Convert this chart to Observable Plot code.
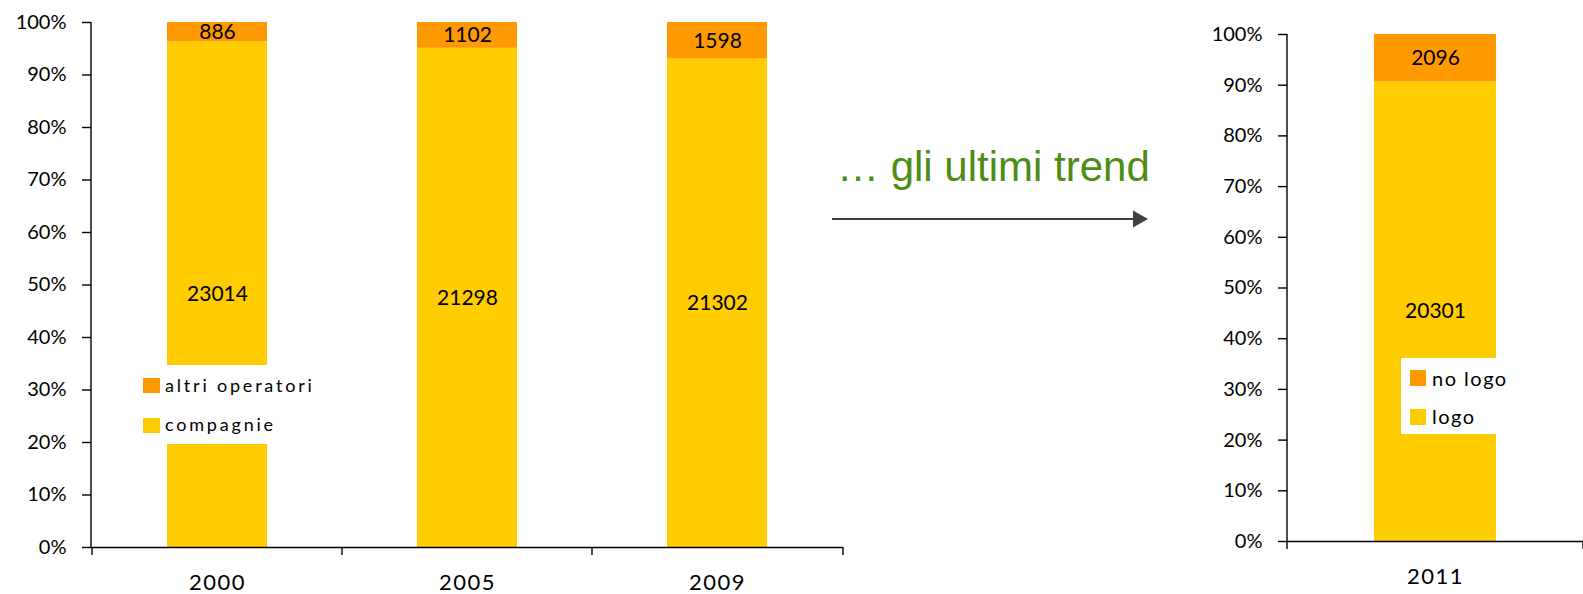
<!DOCTYPE html>
<html><head><meta charset="utf-8">
<script src="https://cdn.jsdelivr.net/npm/d3@7"></script>
<script src="https://cdn.jsdelivr.net/npm/@observablehq/plot@0.6"></script>
<style>
html,body{margin:0;padding:0;background:#fff;}
#root{position:relative;width:1583px;height:594px;overflow:hidden;font-family:Lato,sans-serif;}
.panel{position:absolute;top:0;}
.legend{position:absolute;background:#fff;}
.item{position:absolute;white-space:nowrap;color:#000;line-height:24px;}
.sw{position:absolute;}
#mid{position:absolute;left:800px;top:120px;}
</style></head><body><div id="root"></div>
<script>
// ---- data ----
const years = ["2000", "2005", "2009"];
const seriesLeft = ["compagnie", "altri operatori"];
const compagnie = [23014, 21298, 21302];
const altriOperatori = [886, 1102, 1598];

const years2 = ["2011"];
const seriesRight = ["logo", "no logo"];
const logo = [20301];
const noLogo = [2096];

const yTicks = [0, 0.1, 0.2, 0.3, 0.4, 0.5, 0.6, 0.7, 0.8, 0.9, 1];
const colors = ["#FFCC00", "#FF9900"];
const midText = "… gli ultimi trend";

// ---- tables ----
const leftData = years.flatMap((yr, i) => [
  {year: yr, series: seriesLeft[0], value: compagnie[i]},
  {year: yr, series: seriesLeft[1], value: altriOperatori[i]}
]);
const rightData = years2.flatMap((yr, i) => [
  {year: yr, series: seriesRight[0], value: logo[i]},
  {year: yr, series: seriesRight[1], value: noLogo[i]}
]);

// axis line + band-boundary ticks drawn from the scales
function axisFrame(domain) {
  return (index, scales, values, dims) => {
    const {x, y} = scales;
    const g = d3.create("svg:g").attr("stroke", "#000").attr("stroke-width", 1.4).attr("fill", "none");
    const x0 = dims.marginLeft;
    g.append("line").attr("x1", x0).attr("x2", x0).attr("y1", y(0)).attr("y2", y(1));
    const bounds = domain.map(d => x(d)).concat([dims.width - dims.marginRight]);
    for (const b of bounds) {
      g.append("line").attr("x1", b).attr("x2", b).attr("y1", y(0)).attr("y2", y(0) + 8);
    }
    return g.node();
  };
}

function panel(data, domain, series, o) {
  return Plot.plot({
    width: o.width, height: 594,
    marginLeft: o.ml, marginRight: o.mr, marginTop: o.mt, marginBottom: o.mb,
    style: {fontFamily: "Lato, sans-serif", background: "transparent", overflow: "visible", color: "#000"},
    x: {domain, padding: 0, label: null, axis: null},
    y: {domain: [0, 1], label: null, axis: null},
    color: {domain: series, range: colors},
    marks: [
      Plot.barY(data, Plot.stackY({offset: "normalize", x: "year", y: "value", fill: "series", insetLeft: o.inset, insetRight: o.inset})),
      Plot.text(data, Plot.stackY({offset: "normalize", x: "year", y: "value", z: "series", text: d => String(d.value), fontSize: 21, fill: "#000"})),
      Plot.ruleY([0], {stroke: "#000", strokeWidth: 1.4}),
      axisFrame(domain),
      Plot.axisY({ticks: yTicks, tickFormat: d3.format(".0%"), tickSize: 9, tickPadding: 16, fontSize: 20, label: null, stroke: "#000", strokeWidth: 1.4}),
      Plot.axisX({tickSize: 0, tickPadding: o.xpad, fontSize: 22, label: null})
    ]
  });
}

const root = document.getElementById("root");

const left = panel(leftData, years, seriesLeft, {width: 860, ml: 91, mr: 17, mt: 22, mb: 47, inset: 75, xpad: 27});
left.classList.add("panel"); left.style.left = "0px";
root.appendChild(left);

const right = panel(rightData, years2, seriesRight, {width: 433, ml: 137, mr: 0, mt: 34, mb: 53, inset: 87, xpad: 27});
right.classList.add("panel"); right.style.left = "1150px";
root.appendChild(right);

d3.selectAll("[aria-label='x-axis tick label'] text").style("letter-spacing", "1.5px");

// middle annotation
const mid = d3.select(root).append("svg").attr("id", "mid").attr("width", 380).attr("height", 130);
mid.append("text").attr("x", 37).attr("y", 61).attr("fill", "#4E8C14")
  .attr("font-family", "'Liberation Sans', Arial, sans-serif").attr("font-size", 42).text(midText);
mid.append("line").attr("x1", 32).attr("x2", 336).attr("y1", 99).attr("y2", 99)
  .attr("stroke", "#404040").attr("stroke-width", 2);
mid.append("path").attr("d", "M348,99 L333,90.5 L333,107.5 Z").attr("fill", "#404040");

// legends
function legend(box, items) {
  const div = document.createElement("div");
  div.className = "legend";
  Object.assign(div.style, {left: box.x + "px", top: box.y + "px", width: box.w + "px", height: box.h + "px"});
  items.forEach(it => {
    const sw = document.createElement("div");
    sw.className = "sw";
    Object.assign(sw.style, {left: it.sx + "px", top: it.sy + "px", width: it.sw + "px", height: it.sh + "px", background: it.color});
    div.appendChild(sw);
    const t = document.createElement("div");
    t.className = "item";
    t.textContent = it.label;
    Object.assign(t.style, {left: it.tx + "px", top: it.ty + "px", fontSize: it.fs + "px", letterSpacing: it.ls + "px"});
    div.appendChild(t);
  });
  root.appendChild(div);
}

legend({x: 138, y: 365, w: 180, h: 79}, [
  {color: colors[1], label: seriesLeft[1], sx: 5, sy: 13, sw: 17, sh: 15, tx: 27, ty: 8, fs: 18, ls: 2.8},
  {color: colors[0], label: seriesLeft[0], sx: 5, sy: 53, sw: 17, sh: 15, tx: 27, ty: 47, fs: 18, ls: 2.8}
]);
legend({x: 1401, y: 358, w: 112, h: 76}, [
  {color: colors[1], label: seriesRight[1], sx: 9, sy: 12, sw: 16, sh: 16, tx: 31, ty: 8, fs: 20, ls: 1.5},
  {color: colors[0], label: seriesRight[0], sx: 9, sy: 51, sw: 16, sh: 16, tx: 31, ty: 46, fs: 20, ls: 1.5}
]);
</script></body></html>
